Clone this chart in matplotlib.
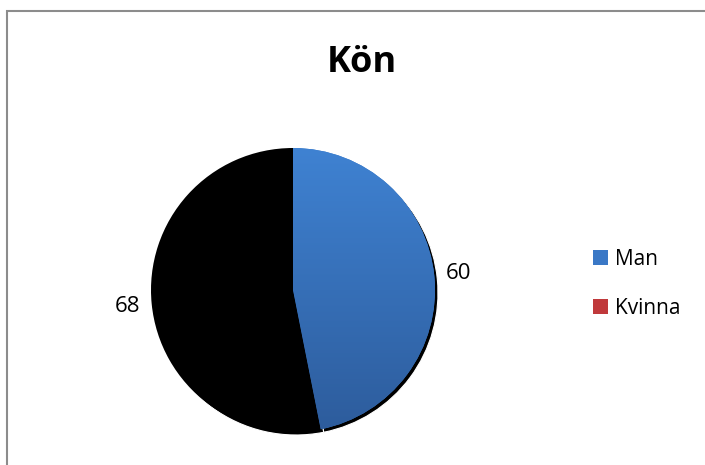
import numpy as np
import matplotlib.pyplot as plt
from matplotlib.patches import Patch, Rectangle
from matplotlib.colors import LinearSegmentedColormap
import matplotlib.transforms as mtransforms

# Data
categories = ['Man', 'Kvinna']
values = [60, 68]
legend_colors = ['#3a78c6', '#c0393b']

plt.rcParams['font.family'] = ['Open Sans', 'DejaVu Sans']

W, H = 705, 465
fig = plt.figure(figsize=(W / 100, H / 100), dpi=100)

# Border around the chart area (right and bottom edges run off the image)
fig.patches.append(Rectangle((6.5 / W, -0.1), 1, 1.1 - 11.5 / H, transform=fig.transFigure,
                             fill=False, edgecolor='#8c8c8c', linewidth=1.5))

# Pie axes placed in pixel coordinates
cx, cy, r = 293, 290, 142
ax = fig.add_axes([(cx - r) / W, (H - cy - r) / H, 2 * r / W, 2 * r / H])

# Shadow under the pie
shadow = mtransforms.offset_copy(ax.transData, fig=fig, x=3, y=-3, units='dots')
sh_wedges, _ = ax.pie(values, startangle=90, counterclock=False,
                      colors=['black', 'black'])
for w in sh_wedges:
    w.set_transform(shadow)
    w.set_edgecolor('white')
    w.set_linewidth(0.8)

wedges, texts = ax.pie(values, labels=[str(v) for v in values], startangle=90,
                       counterclock=False, colors=['#3a78c6', 'black'],
                       labeldistance=1.17,
                       textprops={'fontsize': 16, 'color': 'black'})
for t in texts:
    t.set_ha('center')
    t.set_va('center')

# Vertical gradient on the blue slice
grad = np.linspace(0, 1, 256).reshape(-1, 1)
cmap = LinearSegmentedColormap.from_list('blue', ['#2d5c9c', '#3f82d2'])
img = ax.imshow(grad, extent=[-1, 1, -1, 1], origin='lower', cmap=cmap,
                aspect='auto', zorder=wedges[0].get_zorder() + 0.1)
img.set_clip_path(wedges[0])

ax.set_xlim(-1, 1)
ax.set_ylim(-1, 1)
ax.set_aspect('auto')
ax.axis('off')

fig.text(362 / W, 1 - 72 / H, 'Kön', fontsize=26, fontweight='bold',
         ha='center', va='baseline')

handles = [Patch(facecolor=c, edgecolor='none') for c in legend_colors]
fig.legend(handles, categories, loc='center left',
           bbox_to_anchor=(574 / W, 1 - 284 / H), frameon=False,
           fontsize=15, handlelength=0.75, handleheight=0.75,
           handletextpad=0.3, labelspacing=1.35)

fig.savefig('out.png', dpi=100)
